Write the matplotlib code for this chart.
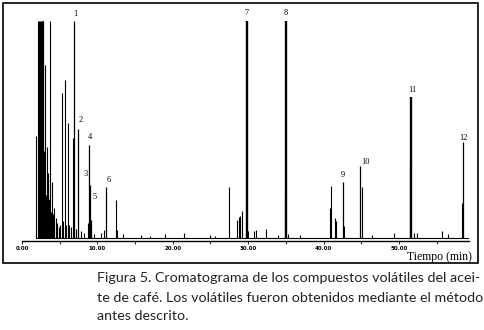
import matplotlib
matplotlib.use("Agg")
import matplotlib.pyplot as plt
from matplotlib.patches import Rectangle

# ---- data (time in min, relative detector response, 100 = off-scale) ----
compound_labels = ["1", "2", "3", "4", "5", "6", "7", "8", "9", "10", "11", "12"]
compound_times = [6.94, 7.47, 9.02, 8.93, 9.22, 11.10, 29.80, 34.97, 42.53, 44.83, 51.55, 58.53]
compound_heights = [100, 50.2, 24.4, 43.0, 8.3, 23.5, 100, 100, 26.0, 33.0, 65.0, 44.0]

other_times = [1.82, 2.16, 2.32, 2.45, 2.52, 2.59, 2.66, 2.72, 2.82, 2.9, 3.05, 3.15, 3.28, 3.45,
               3.6, 3.71, 3.85, 3.95, 4.02, 4.1, 4.2, 4.3, 4.45, 4.6, 4.7, 4.95, 5.1, 5.27, 5.45,
               5.70, 5.9, 6.14, 6.3, 6.5, 6.80, 7.2, 7.8, 8.2, 8.79, 9.6, 10.48, 10.91, 12.43,
               12.64, 13.4, 15.8, 17.0, 18.97, 21.5, 24.9, 25.6, 27.49, 28.47, 28.78, 28.95,
               29.14, 30.01, 30.81, 31.03, 32.32, 34.0, 34.88, 35.32, 36.87, 40.85, 40.98,
               41.51, 41.64, 42.71, 45.05, 46.38, 49.34, 51.46, 51.99, 52.39, 55.66, 56.46, 58.32]
other_heights = [47, 100, 100, 100, 100, 100, 100, 100, 100, 40, 79.7, 20, 42, 30,
                 18, 100, 12, 10, 25.8, 11, 14, 8, 9, 6, 7, 5, 6, 67, 8,
                 72.8, 6, 53.1, 6, 5, 46.1, 4, 3, 2.5, 7, 2, 2.3, 3.7, 17.5,
                 3.7, 2, 1.5, 1, 2, 2.3, 1.5, 1, 23.6, 8.3, 9.8, 10,
                 12.6, 3, 3, 3.7, 4, 1.5, 19, 2, 1.5, 14, 24,
                 9.2, 8, 5.5, 23.6, 1.5, 2.5, 35, 2.5, 2.5, 3, 2, 16]

xticks = [0, 10, 20, 30, 40, 50]
xtick_labels = ["0.00", "10.00", "20.00", "30.00", "40.00", "50.00"]

caption_lines = [
    "Figura 5. Cromatograma de los compuestos volátiles del acei-",
    "te de café. Los volátiles fueron obtenidos mediante el método",
    "antes descrito.",
]

# ---- layout / style ----
W, H = 485, 330
fig = plt.figure(figsize=(W / 100, H / 100), dpi=100)
ax = fig.add_axes([22 / W, (H - 241) / H, 447 / W, 220 / H])
ax.set_xlim(0, 59.3)
ax.set_ylim(-1.4, 100)

thick = {"7", "8", "11"}
label_offsets = {"1": (1, 7), "2": (2, 9), "3": (-4, 11), "4": (1, 8), "5": (3.5, 23),
                 "6": (3, 7), "7": (0, 8), "8": (0, 8), "9": (0, 7), "10": (6, 4),
                 "11": (2, 7), "12": (0, 4)}

ax.plot([other_times[0], 59.3], [0, 0], color="black", lw=0.8)
ax.vlines(other_times, 0, other_heights, color="black", lw=0.8)
for lab, t, h in zip(compound_labels, compound_times, compound_heights):
    ax.vlines(t, 0, h, color="black", lw=1.7 if lab in thick else 0.9)
    dx, dy = label_offsets[lab]
    ax.annotate(lab, xy=(t, h), xytext=(dx, dy), textcoords="offset pixels",
                ha="center", va="center", fontsize=6, family="Liberation Serif",
                annotation_clip=False)

for s in ["top", "left", "right"]:
    ax.spines[s].set_visible(False)
ax.spines["bottom"].set_linewidth(1.0)
ax.set_yticks([])
ax.set_xticks(xticks)
ax.set_xticklabels(xtick_labels, fontsize=4, fontweight="bold")
ax.set_xticks([5, 15, 25, 35, 45, 55], minor=True)
ax.tick_params(axis="x", which="both", length=2, width=0.6, pad=1.5)

fig.text(472 / W, 1 - 257 / H, "Tiempo (min)", ha="right", va="center",
         fontsize=8.5, family="Liberation Serif")

fig.patches.append(Rectangle((3 / W, (H - 263) / H), 475 / W, 260 / H,
                             transform=fig.transFigure, fill=False, lw=1.2,
                             ec="black"))

for line, y in zip(caption_lines, [278, 298, 316]):
    fig.text(97 / W, 1 - y / H, line, ha="left", va="center", fontsize=10.3,
             family="Lato", color="#222222")

fig.savefig("out.png", dpi=100)
